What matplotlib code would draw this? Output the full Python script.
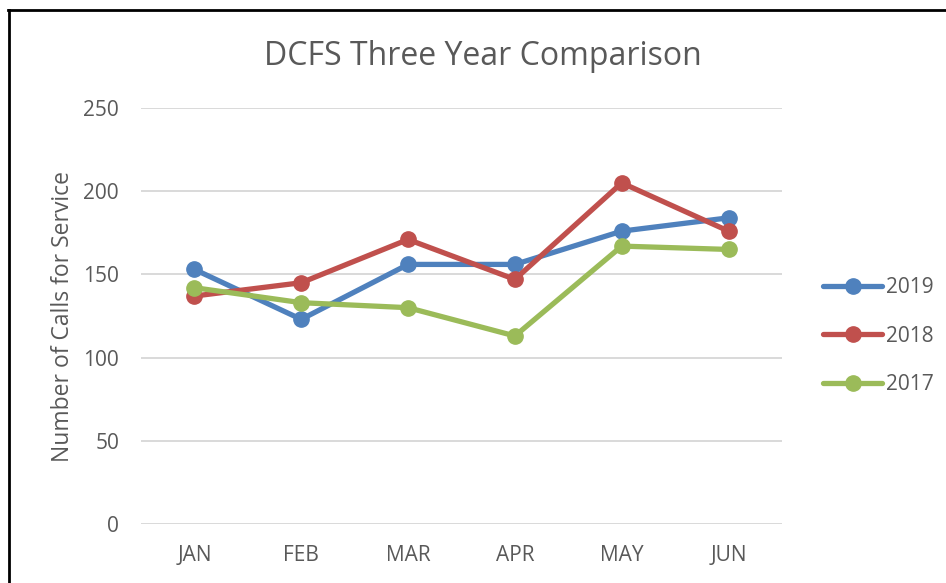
import matplotlib
matplotlib.use("Agg")
import matplotlib.pyplot as plt
from matplotlib.lines import Line2D

months = ["JAN", "FEB", "MAR", "APR", "MAY", "JUN"]
y2019 = [153, 123, 156, 156, 176, 184]
y2018 = [137, 145, 171, 147, 205, 176]
y2017 = [142, 133, 130, 113, 167, 165]
yticks = [0, 50, 100, 150, 200, 250]

W, H = 946, 583
fig = plt.figure(figsize=(W / 100, H / 100), dpi=100)
fig.patch.set_facecolor("white")
plt.rcParams['font.family'] = ['Open Sans', 'DejaVu Sans']
txt = "#595959"

ax = fig.add_axes([141 / W, 1 - 524 / H, (782 - 141) / W, (524 - 108) / H])
x = list(range(len(months)))
series = [("2019", y2019, "#4F81BD"), ("2018", y2018, "#C0504D"), ("2017", y2017, "#9BBB59")]
for name, vals, col in series:
    ax.plot(x, vals, color=col, lw=3.8, marker="o", ms=11, label=name,
            solid_capstyle="round", zorder=3)

ax.set_xlim(-0.5, 5.5)
ax.set_ylim(0, 250)
ax.set_yticks(yticks)
ax.set_xticks(x)
ax.set_xticklabels(months)
ax.grid(axis="y", color="#D9D9D9", lw=1.4)
ax.set_axisbelow(True)
for s in ax.spines.values():
    s.set_visible(False)
ax.tick_params(length=0, labelsize=15, labelcolor=txt)
ax.tick_params(axis="y", pad=15.8)
ax.tick_params(axis="x", pad=15)
ax.set_ylabel("Number of Calls for Service", fontsize=16.5, color=txt, labelpad=6)

fig.text(483 / W, 1 - 65 / H, "DCFS Three Year Comparison", ha="center", va="baseline",
         fontsize=23, color=txt)

leg = ax.legend(loc="center left", bbox_to_anchor=(815 / W, 1 - 336 / H),
                bbox_transform=fig.transFigure, frameon=False, fontsize=15,
                labelcolor=txt, handlelength=2.8, handletextpad=0.2,
                labelspacing=1.32, borderaxespad=0)

# outer border (top and left)
fig.add_artist(Line2D([8 / W, 1], [1 - 10 / H, 1 - 10 / H], transform=fig.transFigure,
                      color="black", lw=2))
fig.add_artist(Line2D([8.5 / W, 8.5 / W], [1 - 10 / H, 0], transform=fig.transFigure,
                      color="black", lw=2))

fig.savefig("out.png", dpi=100, facecolor="white")
